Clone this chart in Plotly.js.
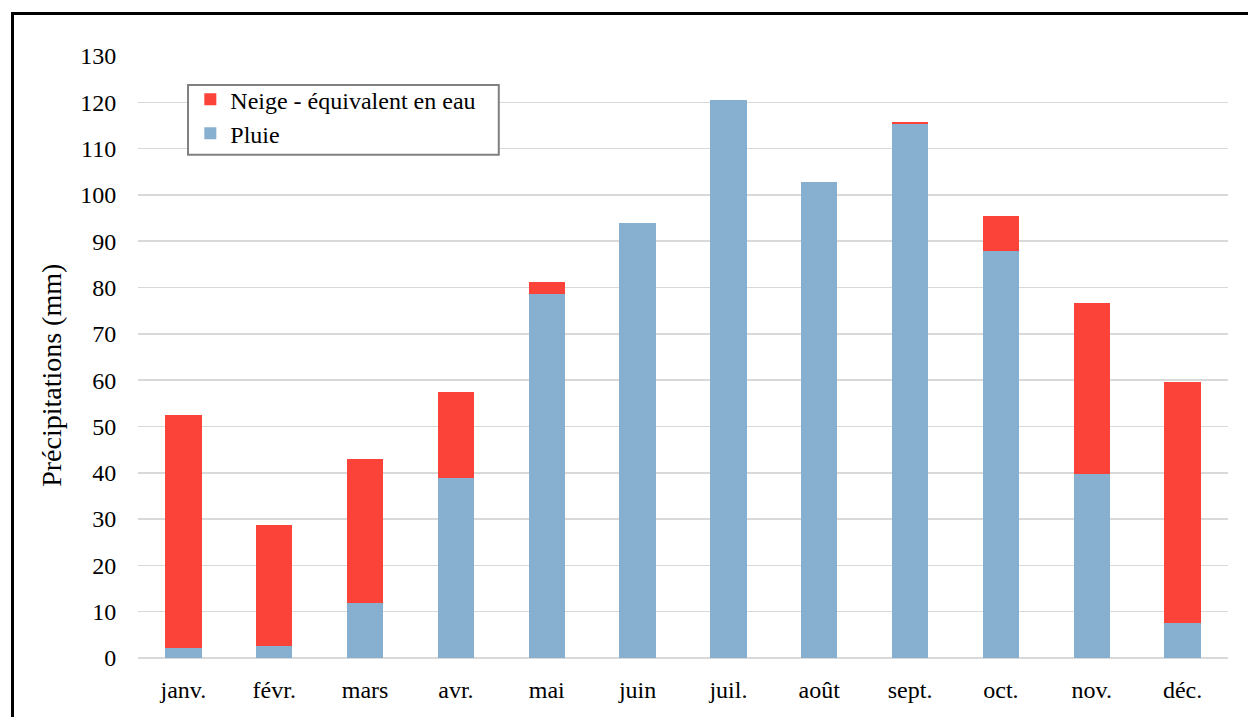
<!DOCTYPE html>
<html><head><meta charset="utf-8">
<script src="https://cdn.plot.ly/plotly-3.0.1.min.js"></script>
<style>
html,body{margin:0;padding:0;background:#fff;overflow:hidden;}
#frame{position:absolute;left:11px;top:12px;width:1260px;height:740px;border:3px solid #000;box-sizing:border-box;pointer-events:none;z-index:10;}
#chart{position:absolute;left:0;top:0;width:1248px;height:717px;}
</style></head>
<body>
<div id="chart"></div>
<div id="frame"></div>
<script>
const months = ["janv.","févr.","mars","avr.","mai","juin","juil.","août","sept.","oct.","nov.","déc."];
const pluie = [2.2, 2.6, 11.8, 38.8, 78.5, 94.0, 120.5, 102.8, 115.3, 87.8, 39.8, 7.5];
const neige = [50.2, 26.1, 31.1, 18.6, 2.8, 0, 0, 0, 0.5, 7.7, 36.9, 52.2];
const yTicks = [0,10,20,30,40,50,60,70,80,90,100,110,120,130];
const yTitle = "Précipitations (mm)";

const fam = "Liberation Serif, Times New Roman, serif";
const font = {family: fam, color: "#000", size: 24};

const traces = [
  {type:"bar", name:"Pluie", x:months, y:pluie, marker:{color:"#87AFD0"}},
  {type:"bar", name:"Neige - équivalent en eau", x:months, y:neige, marker:{color:"#FC433A"}}
];

const layout = {
  width:1248, height:717,
  barmode:"stack", bargap:0.6,
  paper_bgcolor:"#fff", plot_bgcolor:"#fff",
  font: font,
  margin:{l:138, r:20, t:56, b:59, pad:0},
  showlegend:true,
  legend:{x:0.048, y:0.965, xanchor:"left", yanchor:"top", borderwidth:0,
          bgcolor:"rgba(0,0,0,0)", font:{family:fam, size:24, color:"#000"}, traceorder:"reversed", itemwidth:30},
  xaxis:{showgrid:false, zeroline:false, showline:false, ticks:"outside", ticklen:10, tickcolor:"rgba(0,0,0,0)",
         tickfont:font, fixedrange:true},
  yaxis:{range:[0,130], tickvals:yTicks, ticktext:yTicks.map(String), showgrid:true, gridcolor:"#D9D9D9", gridwidth:1.5,
         zeroline:true, zerolinecolor:"#D9D9D9", zerolinewidth:1.5, showline:false,
         ticks:"outside", ticklen:16, tickcolor:"rgba(0,0,0,0)", tickfont:font,
         automargin:false, fixedrange:true},
  shapes:[{type:"rect", xref:"paper", yref:"paper", x0:0.0459, x1:0.331, y0:0.836, y1:0.952,
           line:{color:"#808080", width:2}, fillcolor:"#fff", layer:"above"}],
  annotations:[{text:yTitle, textangle:-90, xref:"paper", yref:"paper", x:-0.08, y:0.47,
                xanchor:"center", yanchor:"middle", showarrow:false, font:{family:fam, size:28, color:"#000"}}]
};
Plotly.newPlot("chart", traces, layout, {displayModeBar:false, staticPlot:true});
</script>
</body></html>
